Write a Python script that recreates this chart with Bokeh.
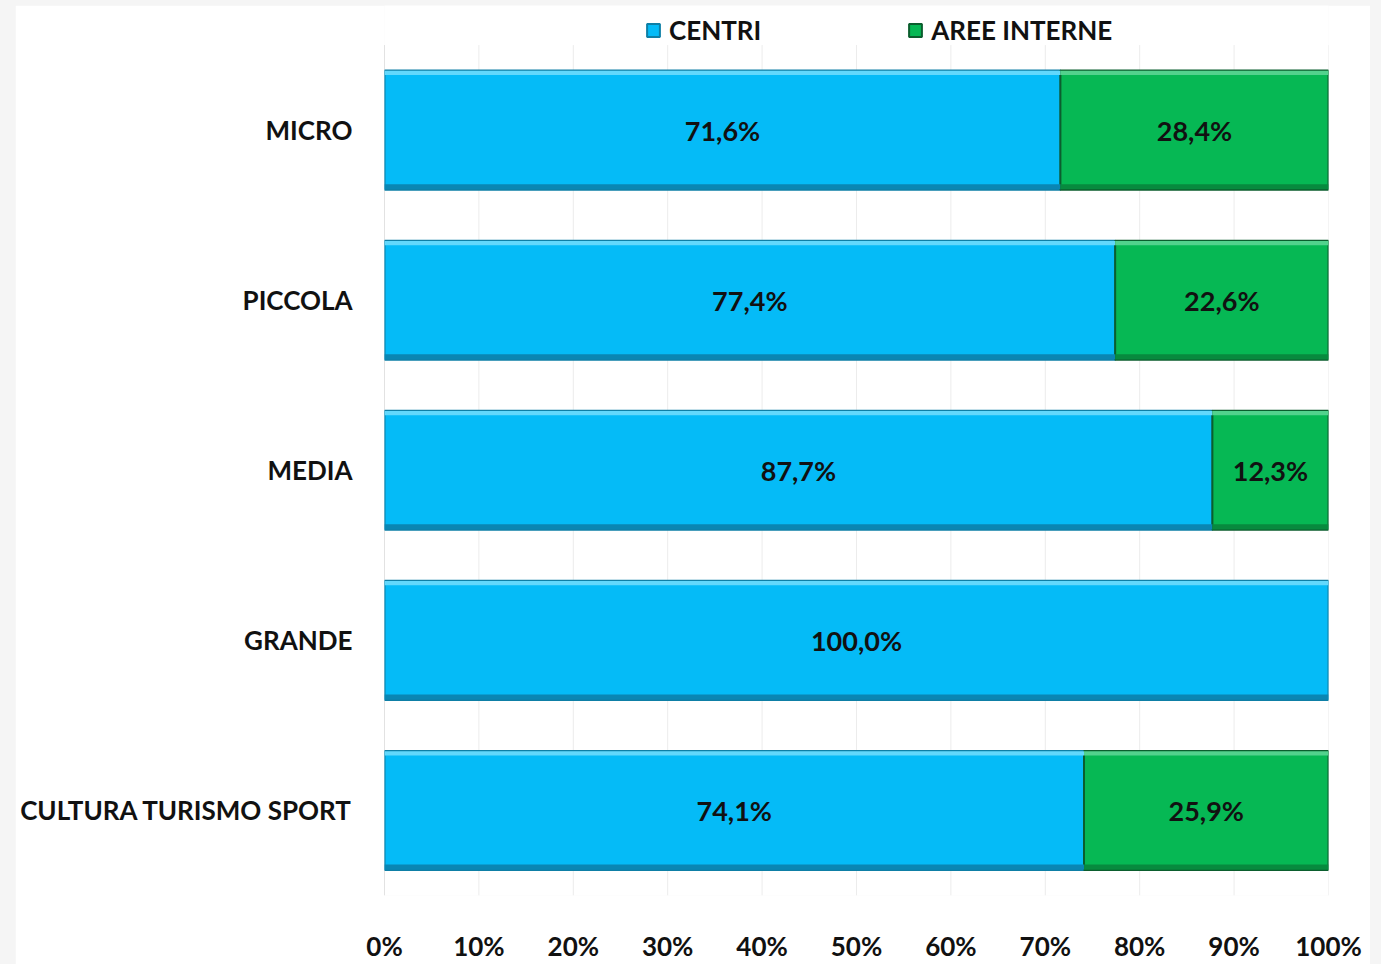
from bokeh.plotting import figure
from bokeh.models import ColumnDataSource, Range1d, Legend, LegendItem, FixedTicker, CustomJSTickFormatter
from bokeh.layouts import column
from bokeh.embed import file_html
from bokeh.resources import INLINE
from bokeh.core.properties import value

categories = ["MICRO", "PICCOLA", "MEDIA", "GRANDE", "CULTURA TURISMO SPORT"]
centri = [71.6, 77.4, 87.7, 100.0, 74.1]
aree_interne = [28.4, 22.6, 12.3, 0.0, 25.9]
tick_values = [0, 10, 20, 30, 40, 50, 60, 70, 80, 90, 100]

FONT = "Lato"
BLUE = "#05BBF7"
GREEN = "#06B854"
BAR_H = 0.70

def fmt(v):
    return ("%.1f" % v).replace(".", ",") + "%"

n = len(categories)
ypos = [n - 1 - i for i in range(n)]  # first category on top

src = ColumnDataSource(dict(
    y=ypos,
    top=[y + BAR_H / 2 - 0.014 for y in ypos],
    bot=[y - BAR_H / 2 + 0.017 for y in ypos],
    c=centri,
    c_mid=[c / 2 for c in centri],
    a_mid=[c + a / 2 for c, a in zip(centri, aree_interne)],
    c_lab=[fmt(v) for v in centri],
    a_lab=[fmt(v) if v > 0 else "" for v in aree_interne],
    zero=[0] * n,
))
keep = [i for i in range(n) if aree_interne[i] > 0]
a_src = ColumnDataSource(dict(
    y=[ypos[i] for i in keep],
    top=[ypos[i] + BAR_H / 2 - 0.014 for i in keep],
    bot=[ypos[i] - BAR_H / 2 + 0.017 for i in keep],
    a_left=[centri[i] for i in keep],
    a_right=[centri[i] + aree_interne[i] for i in keep],
))
grid_src = ColumnDataSource(dict(
    x=tick_values,
    y0=[-0.5] * len(tick_values),
    y1=[n - 0.5] * len(tick_values),
))

p = figure(
    y_range=Range1d(-0.5, n - 0.5 + 0.2326),
    x_range=Range1d(0, 100),
    width=1355, height=959,
    output_backend="svg", toolbar_location=None,
    min_border_left=369, min_border_right=42, min_border_top=0, min_border_bottom=59,
    margin=(5, 11, 0, 15),
)
p.background_fill_color = "white"
p.border_fill_color = "white"
p.outline_line_color = None
p.xgrid.grid_line_color = None
p.ygrid.grid_line_color = None

# vertical gridlines (only across the bar area)
p.segment(x0="x", x1="x", y0="y0", y1="y1", source=grid_src,
          line_color="#ececec", line_width=1)
p.segment(x0=[0], x1=[0], y0=[-0.5], y1=[n - 0.5], line_color="#d0d0d0", line_width=1)

r1 = p.hbar(y="y", left="zero", right="c", height=BAR_H, source=src,
            fill_color=BLUE, line_color="#0E7FA6", line_width=2)
r2 = p.hbar(y="y", left="a_left", right="a_right", height=BAR_H, source=a_src,
            fill_color=GREEN, line_color="#0B5E2E", line_width=2)
# bevel highlights / shadows
p.hbar(y="top", left="zero", right="c", height=0.025, source=src,
       fill_color="#62D8FC", line_color=None)
p.hbar(y="bot", left="zero", right="c", height=0.03, source=src,
       fill_color="#0A86B3", line_color=None)
p.hbar(y="top", left="a_left", right="a_right", height=0.025, source=a_src,
       fill_color="#52D28D", line_color=None)
p.hbar(y="bot", left="a_left", right="a_right", height=0.03, source=a_src,
       fill_color="#078A3E", line_color=None)

p.text(x="c_mid", y="y", text="c_lab", source=src, text_align="center",
       text_baseline="middle", text_font=value(FONT), text_font_style="bold",
       text_font_size="27px", text_color="#111111")
p.text(x="a_mid", y="y", text="a_lab", source=src, text_align="center",
       text_baseline="middle", text_font=value(FONT), text_font_style="bold",
       text_font_size="27px", text_color="#111111")

p.xaxis.ticker = FixedTicker(ticks=tick_values)
p.xaxis.formatter = CustomJSTickFormatter(code="return tick.toFixed(0) + '%';")
p.xaxis.axis_line_color = None
p.xaxis.major_tick_line_color = None
p.xaxis.minor_tick_line_color = None
p.xaxis.major_label_standoff = 28
p.xaxis.major_label_text_font = FONT
p.xaxis.major_label_text_font_style = "bold"
p.xaxis.major_label_text_font_size = "26px"
p.xaxis.major_label_text_color = "#111111"

p.yaxis.ticker = FixedTicker(ticks=ypos)
p.yaxis.major_label_overrides = {y: c for y, c in zip(ypos, categories)}
p.yaxis.axis_line_color = None
p.yaxis.major_tick_line_color = None
p.yaxis.minor_tick_line_color = None
p.yaxis.major_label_standoff = 26
p.yaxis.major_label_text_font = FONT
p.yaxis.major_label_text_font_style = "bold"
p.yaxis.major_label_text_font_size = "26px"
p.yaxis.major_label_text_color = "#111111"

legend = Legend(items=[LegendItem(label="CENTRI", renderers=[r1]),
                       LegendItem(label="AREE INTERNE", renderers=[r2])],
                orientation="horizontal", location=(261, 849),
                label_text_font=FONT, label_text_font_style="bold",
                label_text_font_size="26px", label_text_color="#111111",
                glyph_width=16, glyph_height=16, label_standoff=8,
                spacing=146, padding=2, margin=0,
                border_line_color=None, background_fill_alpha=0)
p.add_layout(legend, "center")

layout = column(p, styles={"background-color": "#f5f5f5"})
open("out.html", "w").write(file_html(layout, INLINE))
